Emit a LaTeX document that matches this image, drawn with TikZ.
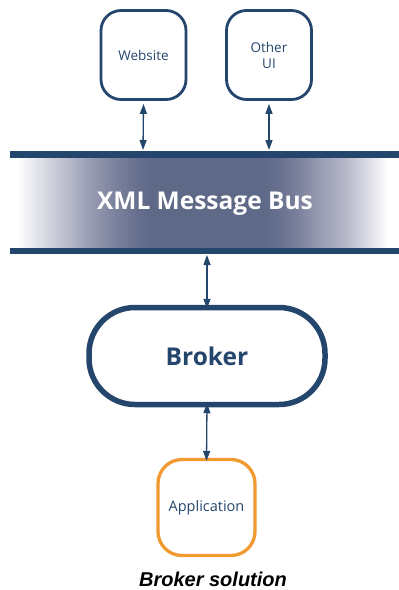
\documentclass[tikz,border=0pt]{standalone}
\usepackage{fontspec}
\setmainfont{Open Sans}
\newfontfamily\capfont{Liberation Sans}
\usetikzlibrary{arrows.meta}
\definecolor{navy}{RGB}{36,70,108}
\definecolor{busdark}{RGB}{94,104,135}
\definecolor{bus1}{RGB}{230,231,237}
\definecolor{busA}{RGB}{208,209,220}
\definecolor{bus2}{RGB}{181,184,201}
\definecolor{busB}{RGB}{152,156,178}
\definecolor{bus3}{RGB}{123,130,157}
\definecolor{bus4}{RGB}{104,113,143}
\definecolor{busC}{RGB}{126,132,158}
\definecolor{busD}{RGB}{182,184,201}
\definecolor{bus5}{RGB}{215,216,226}
\definecolor{appor}{RGB}{241,154,50}
\pgfdeclarehorizontalshading{busshade}{100bp}{color(0bp)=(white); color(26bp)=(white); color(28.2bp)=(bus1); color(30.1bp)=(busA); color(32.7bp)=(bus2); color(35.3bp)=(busB); color(38.5bp)=(bus3); color(41.1bp)=(bus4); color(43bp)=(busdark); color(57.4bp)=(busdark); color(59.7bp)=(bus4); color(62.3bp)=(busC); color(64.8bp)=(busB); color(68.1bp)=(busD); color(70.6bp)=(bus5); color(73.6bp)=(white); color(100bp)=(white)}
\tikzset{
  uibox/.style={draw=navy, line width=2.8pt, rounded corners=20pt, minimum width=85pt, minimum height=89pt, inner sep=0pt, text=navy, font=\fontsize{13.5}{16}\selectfont, align=center},
  brokerbox/.style={draw=navy, line width=5.5pt, rounded corners=46pt, minimum width=236pt, minimum height=97pt, inner sep=0pt, text=navy, font=\fontsize{24.5}{28}\selectfont\bfseries},
  appbox/.style={draw=appor, line width=3.3pt, rounded corners=24pt, minimum width=97pt, minimum height=96pt, inner sep=0pt, text=navy, font=\fontsize{14.5}{17}\selectfont},
  link/.style={draw=navy, line width=1.3pt, {Triangle[length=10pt,width=7pt]}-{Triangle[length=10pt,width=7pt]}},
  busbar/.style={fill=navy, draw=none}
}
\begin{document}
\begin{tikzpicture}[x=1pt,y=-1pt]
\useasboundingbox (0,0) rectangle (399,590);
% bus background
\shade[shading=busshade, draw=none] (10,157) rectangle (399,248);
\fill[busbar] (10,151) rectangle (399,157.5);
\fill[busbar] (10,247.5) rectangle (399,254);
\node[text=white, font=\fontsize{24.5}{28}\selectfont\bfseries, inner sep=0pt] (bus) at (205,204) {XML Message Bus};
\coordinate (bt1) at (143,150);
\coordinate (bt2) at (269,150);
\coordinate (bb) at (207,255);
% nodes
\node[uibox] (web) at (143.5,55) {Website};
\node[uibox] (oth) at (269,55) {Other\\UI};
\node[brokerbox] (brk) at (207,356) {Broker};
\node[appbox] (app) at (206.5,507.5) {Application};
\node[font=\capfont\fontsize{20}{23}\selectfont\bfseries\itshape, inner sep=0pt] (cap) at (213,579) {Broker solution};
% connectors
\draw[link] ([yshift=-3pt]web.south) -- (bt1);
\draw[link] ([yshift=-3pt]oth.south) -- (bt2);
\draw[link] (bb) -- ([yshift=-4pt]brk.north);
\draw[link] ([yshift=4pt]brk.south) -- ([yshift=-3pt]app.north);
\end{tikzpicture}
\end{document}
